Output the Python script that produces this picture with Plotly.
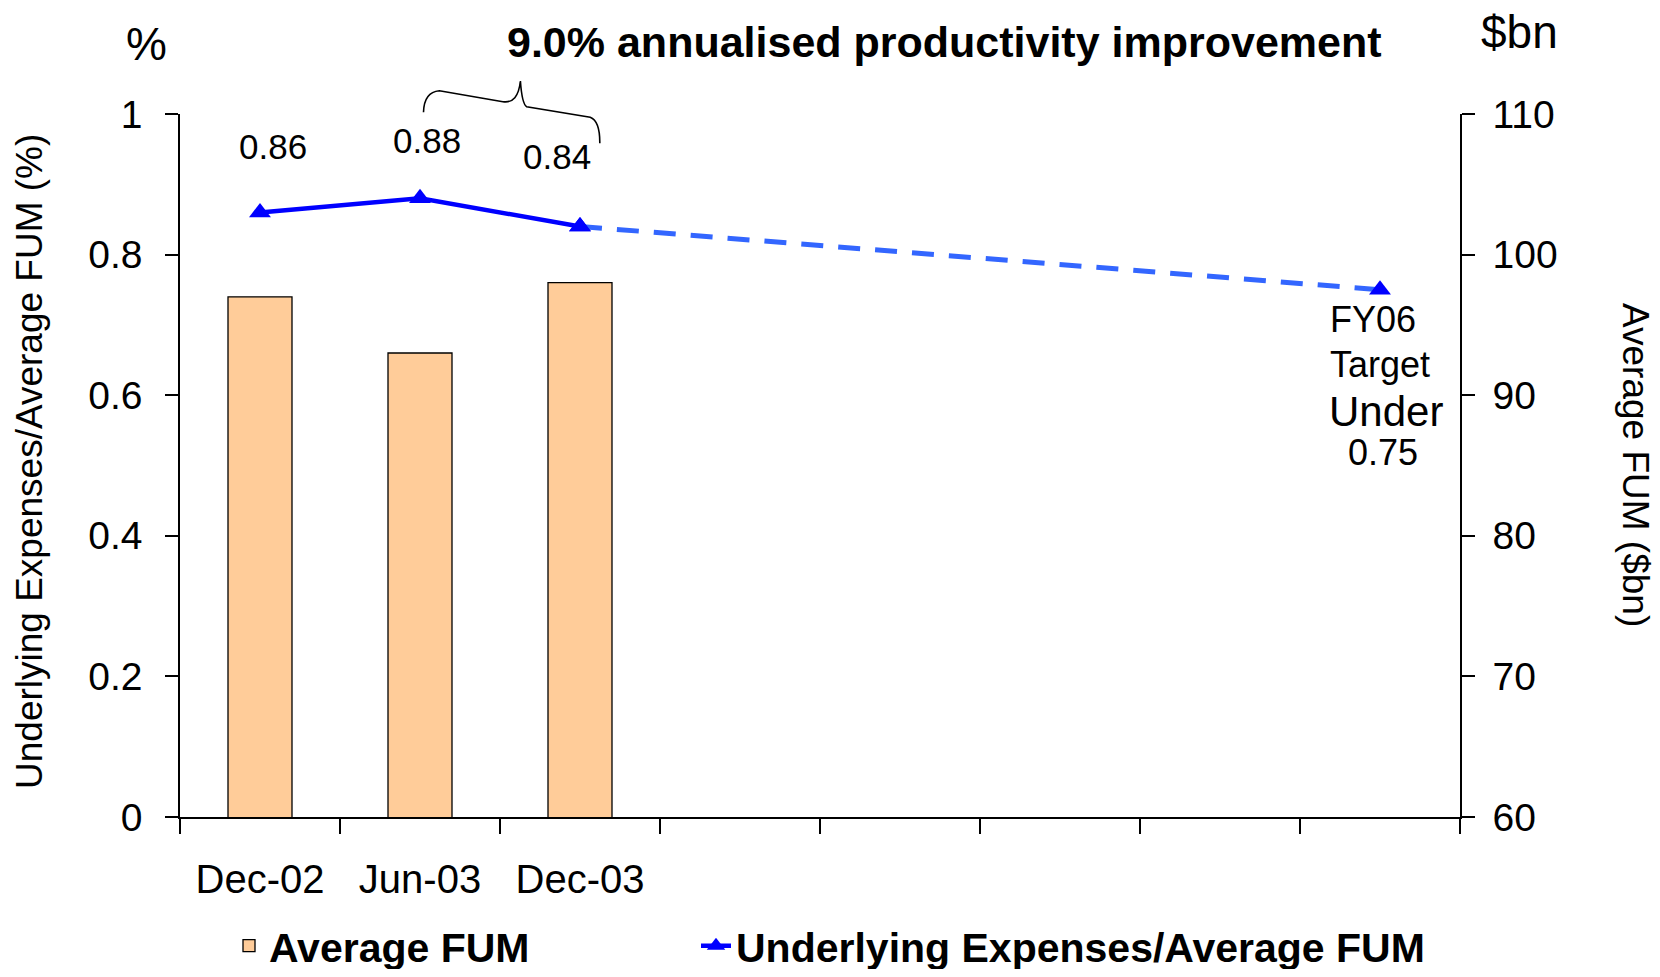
import plotly.graph_objects as go

# ---------------- data ----------------
periods = ["Dec-02", "Jun-03", "Dec-03", "Jun-04", "Dec-04", "Jun-05", "Dec-05", "FY06"]
tick_labels = ["Dec-02", "Jun-03", "Dec-03", "", "", "", "", ""]

fum_periods = ["Dec-02", "Jun-03", "Dec-03"]
avg_fum = [97, 93, 98]                      # $bn, right axis

ratio_periods = ["Dec-02", "Jun-03", "Dec-03"]
ratio = [0.86, 0.88, 0.84]                  # %, left axis
ratio_labels = ["0.86", "0.88", "0.84"]

target_periods = ["Dec-03", "FY06"]
target_ratio = [0.84, 0.75]

left_ticks = [0, 0.2, 0.4, 0.6, 0.8, 1]
right_ticks = [60, 70, 80, 90, 100, 110]

# ---------------- geometry helpers ----------------
OFF = 8                      # default body margin of the html page
PAGE_W, PAGE_H = 1660, 977
W, H = PAGE_W - 2 * OFF, PAGE_H - 2 * OFF
# plot area in page pixels: x 180..1460, y 114..817
L, T = 180 - OFF, 114 - OFF
R, B = W - (1460 - OFF), H - (817 - OFF)
PW, PH = W - L - R, H - T - B


def px(x):
    """page x pixel -> paper fraction"""
    return (x - OFF - L) / PW


def py(y):
    """page y pixel -> paper fraction"""
    return (H - B - (y - OFF)) / PH


FONT = "Liberation Sans, Arial, sans-serif"
BLACK = "#000000"

fig = go.Figure()

fig.add_trace(go.Bar(
    x=fum_periods, y=avg_fum, name="Average FUM", yaxis="y2",
    width=0.4, legend="legend",
    marker=dict(color="#FFCC99", line=dict(color=BLACK, width=1.3)),
))

fig.add_trace(go.Scatter(
    x=target_periods, y=target_ratio, mode="lines+markers", showlegend=False,
    line=dict(color="#3366FF", width=5, dash="22px,15px"),
    marker=dict(symbol="triangle-up", size=19, color="#0000FF"),
))

fig.add_trace(go.Scatter(
    x=ratio_periods, y=ratio, mode="lines+markers",
    name="Underlying Expenses/Average FUM", legend="legend2",
    line=dict(color="#0000FF", width=4.5),
    marker=dict(symbol="triangle-up", size=19, color="#0000FF"),
))


def note(x, y, text, size, bold=False, angle=0, xanchor="center"):
    f = dict(size=size, color=BLACK, family=FONT)
    if bold:
        f["weight"] = "bold"
    return dict(x=px(x), y=py(y), xref="paper", yref="paper", text=text,
                showarrow=False, textangle=angle, xanchor=xanchor,
                yanchor="middle", font=f)


annotations = []
# data labels
label_shift = [(13, 66), (7, 58), (-23, 70)]
for p, v, t, (dx, dy) in zip(ratio_periods, ratio, ratio_labels, label_shift):
    annotations.append(dict(x=p, y=v, xref="x", yref="y", text=t, showarrow=False,
                            xshift=dx, yshift=dy, xanchor="center", yanchor="middle",
                            font=dict(size=35, color=BLACK, family=FONT)))

annotations += [
    note(944, 42, "9.0% annualised productivity improvement", 43, bold=True),
    note(146, 44, "%", 46),
    note(1519, 32, "$bn", 46),
    note(30, 462, "Underlying Expenses/Average FUM (%)", 37, angle=-90),
    note(1636, 465, "Average FUM ($bn)", 37, angle=90),
    note(1328, 319, "FY06", 36, xanchor="left"),
    note(1328, 364, "Target", 36, xanchor="left"),
    note(1327, 411, "Under", 42, xanchor="left"),
    note(1346, 452, "0.75", 36, xanchor="left"),
]

# curly brace over the first three data labels (page pixels)
pts = [("M", [(423.5, 112.3)]),
       ("Q", [(424, 92), (439.4, 90.7)]),
       ("L", [(502.9, 101.7)]),
       ("Q", [(518, 104), (520.4, 81)]),
       ("Q", [(522, 104), (526.7, 106.7)]),
       ("L", [(590.2, 117.3)]),
       ("Q", [(600, 121), (599.8, 143.3)])]
path = ""
for cmd, cs in pts:
    path += cmd + " ".join(f"{px(a):.5f},{py(b):.5f}" for a, b in cs) + " "

shapes = [dict(type="path", xref="paper", yref="paper", path=path.strip(),
               line=dict(color=BLACK, width=1.6))]

legend_common = dict(orientation="h", xanchor="left", yanchor="middle",
                     font=dict(size=41, family=FONT, color=BLACK, weight="bold"),
                     bgcolor="rgba(0,0,0,0)")

fig.update_layout(
    width=W, height=H,
    margin=dict(l=L, r=R, t=T, b=B, autoexpand=False),
    paper_bgcolor="white", plot_bgcolor="white",
    font=dict(family=FONT, color=BLACK, size=38),
    xaxis=dict(type="category", categoryorder="array", categoryarray=periods,
               range=[-0.5, 7.5], tickmode="array", tickvals=periods, ticktext=tick_labels,
               tickson="boundaries", ticks="outside", ticklen=15, tickwidth=1.5,
               tickcolor=BLACK, showline=True, linecolor=BLACK, linewidth=1.5,
               showgrid=False, zeroline=False, ticklabelstandoff=26,
               tickfont=dict(size=40, family=FONT, color=BLACK)),
    yaxis=dict(range=[0, 1], tickmode="array", tickvals=left_ticks,
               ticks="outside", ticklen=13, tickwidth=1.5, tickcolor=BLACK,
               showline=True, linecolor=BLACK, linewidth=1.5, showgrid=False,
               zeroline=False, ticklabelstandoff=15,
               tickfont=dict(size=39, family=FONT, color=BLACK)),
    yaxis2=dict(range=[60, 110], tickmode="array", tickvals=right_ticks,
                overlaying="y", side="right",
                ticks="outside", ticklen=13, tickwidth=1.5, tickcolor=BLACK,
                showline=True, linecolor=BLACK, linewidth=1.5, showgrid=False,
                zeroline=False, ticklabelstandoff=10,
                tickfont=dict(size=39, family=FONT, color=BLACK)),
    legend=dict(x=px(229), y=py(946), **legend_common),
    legend2=dict(x=px(696), y=py(946), **legend_common),
    annotations=annotations,
    shapes=shapes,
)

fig.write_html("out.html")
